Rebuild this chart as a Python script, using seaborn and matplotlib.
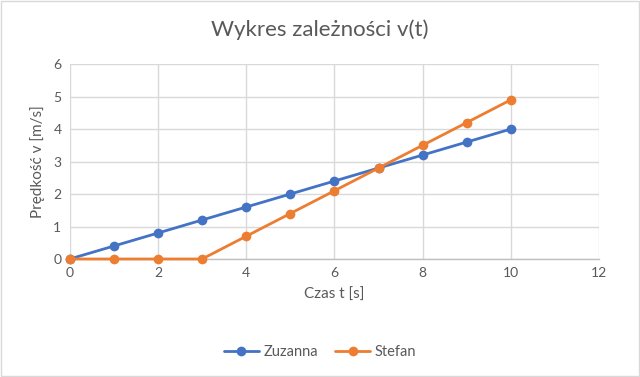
import pandas as pd
import matplotlib.pyplot as plt
import seaborn as sns
from matplotlib.patches import Rectangle

czas = [0, 1, 2, 3, 4, 5, 6, 7, 8, 9, 10]
zuzanna = [0, 0.4, 0.8, 1.2, 1.6, 2.0, 2.4, 2.8, 3.2, 3.6, 4.0]
stefan = [0, 0, 0, 0, 0.7, 1.4, 2.1, 2.8, 3.5, 4.2, 4.9]
series_names = ["Zuzanna", "Stefan"]
x_ticks = [0, 2, 4, 6, 8, 10, 12]
y_ticks = [0, 1, 2, 3, 4, 5, 6]

df = pd.DataFrame({
    "t": czas * 2,
    "v": zuzanna + stefan,
    "osoba": [series_names[0]] * len(czas) + [series_names[1]] * len(czas),
})

sns.set_style("white")
plt.rcParams["font.family"] = ["Lato", "DejaVu Sans"]
text_col = "#595959"
grid_col = "#d9d9d9"

fig = plt.figure(figsize=(6.4, 3.77), dpi=100)
ax = fig.add_axes([0.109, 0.313, 0.827, 0.517])

sns.lineplot(data=df, x="t", y="v", hue="osoba", palette=["#4472c4", "#ed7d31"],
             marker="o", markersize=7, markeredgewidth=0, linewidth=2,
             ax=ax, legend=True, zorder=3)
for line in ax.lines:
    line.set_clip_on(False)

ax.set_xlim(0, 12)
ax.set_ylim(0, 6)
ax.set_xticks(x_ticks)
ax.set_yticks(y_ticks)
ax.grid(True, color=grid_col, linewidth=1)
ax.set_axisbelow(True)
for s in ["top", "right", "left"]:
    ax.spines[s].set_visible(False)
ax.spines["bottom"].set_color("#bfbfbf")
ax.spines["bottom"].set_linewidth(1)
ax.tick_params(axis="both", length=0, labelsize=10, colors=text_col, pad=6)
ax.set_xlabel("Czas t [s]", fontsize=11, color=text_col, labelpad=6)
ax.set_ylabel("Prędkość v [m/s]", fontsize=11, color=text_col, labelpad=6)
for lab in ax.get_xticklabels() + ax.get_yticklabels():
    lab.set_color(text_col)

fig.text(0.5, 0.92, "Wykres zależności v(t)", ha="center", va="center",
         fontsize=16, color=text_col)

handles, labels = ax.get_legend_handles_labels()
ax.legend(handles, labels, loc="center", bbox_to_anchor=(0.5, 0.066),
          bbox_transform=fig.transFigure, ncol=2, frameon=False,
          fontsize=10.5, labelcolor=text_col, handlelength=2.4, columnspacing=1.2,
          handletextpad=0.3)

fig.patches.append(Rectangle((0.002, 0.003), 0.996, 0.994, transform=fig.transFigure,
                             fill=False, edgecolor=grid_col, linewidth=1))

fig.savefig("out.png", dpi=100)
